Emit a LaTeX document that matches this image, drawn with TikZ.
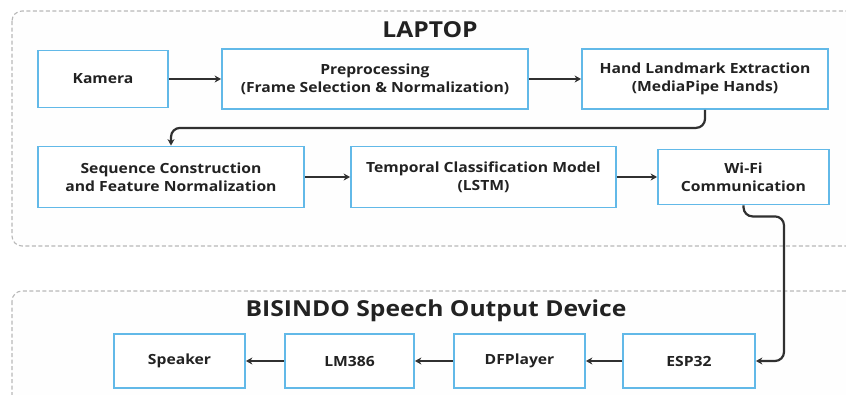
\documentclass[tikz,border=0pt]{standalone}
\usepackage{fontspec}
\setmainfont{Open Sans}[FakeStretch=1.12]
\usetikzlibrary{arrows.meta}
\definecolor{boxblue}{HTML}{62B9E8}
\definecolor{inkdark}{HTML}{222222}
\definecolor{wiredark}{HTML}{303030}
\definecolor{groupline}{HTML}{B8B8B8}
\definecolor{groupfill}{HTML}{FEFEFE}
\tikzset{
  group/.style={draw=groupline, fill=groupfill, dash pattern=on 4pt off 2.5pt,
    line width=1.1pt, rounded corners=10pt},
  grouptitle/.style={text=inkdark, font=\bfseries\fontsize{22}{26}\selectfont},
  block/.style={draw=boxblue, fill=white, line width=1.8pt, align=center,
    text=inkdark, font=\bfseries\fontsize{14}{18}\selectfont, inner sep=0pt},
  flow/.style={draw=wiredark, line width=2.2pt, rounded corners=9pt,
    -{Stealth[length=6.5pt,width=7pt]}},
}
\begin{document}
\begin{tikzpicture}[x=1pt,y=-1pt]
\useasboundingbox (0,0) rectangle (846,394);
\begin{scope}
\clip (0,0) rectangle (846,394);
% groups running past the right and bottom edges
\draw[group] (12,11) rectangle (880,246);
\draw[group] (12,291) rectangle (880,430);
\end{scope}
\node[grouptitle] (tlaptop) at (430,30) {LAPTOP};
\node[grouptitle] (tdevice) at (436,311) {BISINDO Speech Output Device};

% laptop pipeline
\node[block, minimum width=130pt, minimum height=57pt] (kam) at (103,79) {Kamera};
\node[block, minimum width=306pt, minimum height=60pt] (pre) at (375,79) {Preprocessing\\(Frame Selection \& Normalization)};
\node[block, minimum width=246pt, minimum height=60pt] (hand) at (705,79) {Hand Landmark Extraction\\(MediaPipe Hands)};
\node[block, minimum width=266pt, minimum height=61pt] (seq) at (171,177) {Sequence Construction\\and Feature Normalization};
\node[block, minimum width=265pt, minimum height=61pt] (lstm) at (483.5,177) {Temporal Classification Model\\(LSTM)};
\node[block, minimum width=171pt, minimum height=55pt] (wifi) at (743.5,177) {Wi-Fi\\Communication};

% output device
\node[block, minimum width=131pt, minimum height=54pt] (spk) at (179.5,361) {Speaker};
\node[block, minimum width=129pt, minimum height=54pt] (amp) at (349.5,361) {LM386};
\node[block, minimum width=131pt, minimum height=54pt] (dfp) at (519.5,361) {DFPlayer};
\node[block, minimum width=132pt, minimum height=54pt] (esp) at (689,361) {ESP32};

\coordinate (drop) at (784,300);

% connectors
\draw[flow] (kam) -- (pre);
\draw[flow] (pre) -- (hand);
\draw[flow] (hand.south) -- ++(0,18) -| (seq.north);
\draw[flow] (seq) -- (lstm);
\draw[flow] (lstm) -- (wifi);
\draw[flow] (wifi.south) -- ++(0,11) -| (drop) |- (esp.east);
\draw[flow] (esp) -- (dfp);
\draw[flow] (dfp) -- (amp);
\draw[flow] (amp) -- (spk);
\end{tikzpicture}
\end{document}
